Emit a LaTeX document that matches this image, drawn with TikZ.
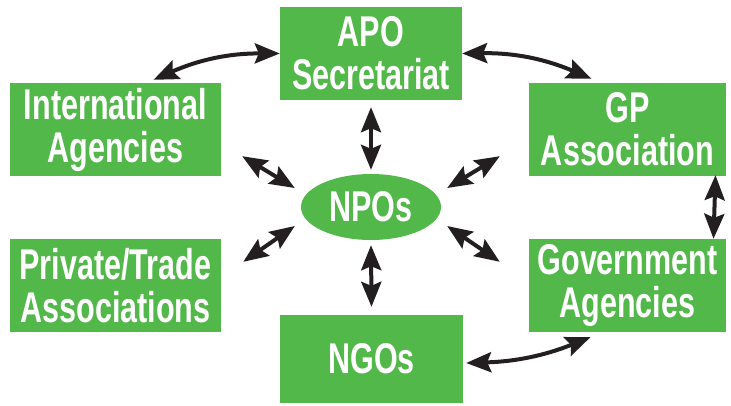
\documentclass[tikz,border=0pt]{standalone}
\usepackage{fontspec}
\setmainfont{Liberation Sans}[FakeStretch=0.71]
\usepackage{tikz}
\usetikzlibrary{arrows.meta,positioning,calc,shapes}

\definecolor{boxgreen}{RGB}{82,184,74}
\definecolor{arrowink}{RGB}{35,31,32}

\begin{document}
\begin{tikzpicture}[x=1pt, y=-1pt,
    box/.style={fill=boxgreen, text=white, align=center, inner sep=0pt,
      font=\bfseries\fontsize{43}{43}\selectfont},
    link/.style={{Stealth[length=25pt,width=20pt,inset=4pt]}-{Stealth[length=25pt,width=20pt,inset=4pt]},
      line width=4pt, arrowink}]
    \useasboundingbox (0,0) rectangle (731,405);

    % Boxes round the centre
    \node[box, minimum width=182pt, minimum height=93pt] (apo) at (371,53.5) {APO\\Secretariat};
    \node[box, minimum width=211pt, minimum height=93pt] (intl) at (115.5,129.5) {International\\Agencies};
    \node[box, minimum width=197pt, minimum height=93pt] (gp) at (627.5,129.5) {GP\\Association};
    \node[box, minimum width=211pt, minimum height=93pt] (priv) at (115.5,285.5) {Private/Trade\\Associations};
    \node[box, minimum width=197pt, minimum height=93pt] (gov) at (627.5,285.5) {Government\\Agencies};
    \node[box, minimum width=183pt, minimum height=88pt] (ngos) at (371.5,359) {NGOs};

    % Centre
    \node[box, ellipse, minimum width=140pt, minimum height=66pt] (npos) at (371,207) {NPOs};

    % Outer ring
    \draw[link] (apo.west) to[bend right=12] ($(intl.north)+(38,-3)$);
    \draw[link] (apo.east) to[bend left=12] ($(gp.north)+(-36,-4)$);
    \draw[link] ($(gp.south)+(88,-1)$) -- ($(gov.north)+(86,0)$);
    \draw[link] ($(ngos.east)+(3,4)$) to[bend right=10] ($(gov.south)+(-37,5)$);

    % Spokes
    \draw[link] ($(apo.south)+(0,7)$) -- ($(npos.north)+(0,-4)$);
    \draw[link] ($(npos.south)+(0,5)$) -- ($(ngos.north)+(0,-8)$);
    \draw[link] ($(intl.south east)+(21,-20)$) -- ($(npos.west)+(-6,-19)$);
    \draw[link] ($(priv.north east)+(22,23)$) -- ($(npos.west)+(-6,19)$);
    \draw[link] ($(gp.south west)+(-29,-20)$) -- ($(npos.east)+(6,-19)$);
    \draw[link] ($(gov.north west)+(-29,23)$) -- ($(npos.east)+(6,19)$);
  \end{tikzpicture}
\end{document}
